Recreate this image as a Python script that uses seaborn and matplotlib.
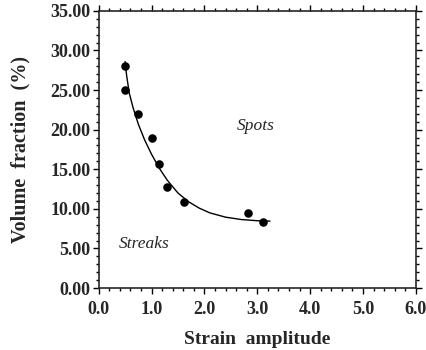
import matplotlib
matplotlib.use('Agg')
import matplotlib.pyplot as plt
import seaborn as sns
import pandas as pd
from matplotlib.ticker import MultipleLocator, FormatStrFormatter

# measured points
strain = [0.50, 0.50, 0.75, 1.01, 1.14, 1.29, 1.61, 2.83, 3.10]
volume = [28.0, 25.0, 22.0, 18.9, 15.7, 12.8, 10.9, 9.5, 8.3]

# fitted curve
fit_x = [0.50, 0.53, 0.58, 0.65, 0.75, 0.87, 1.00, 1.15, 1.30, 1.50, 1.70,
         1.90, 2.10, 2.40, 2.70, 3.00, 3.24]
fit_y = [28.6, 26.8, 24.6, 22.8, 20.7, 18.7, 16.9, 15.1, 13.6, 12.0, 10.9,
         10.1, 9.5, 8.95, 8.65, 8.5, 8.45]

df = pd.DataFrame({'strain': strain, 'volume': volume})
df_fit = pd.DataFrame({'x': fit_x, 'y': fit_y})

sns.set_style('ticks')
plt.rcParams['font.family'] = ['Liberation Serif', 'DejaVu Serif']

fig = plt.figure(figsize=(4.27, 3.5), dpi=100)
ax = fig.add_axes([0.231, 0.177, 0.743, 0.792])

sns.lineplot(data=df_fit, x='x', y='y', color='black', linewidth=1.0,
             sort=False, ax=ax)
sns.scatterplot(data=df, x='strain', y='volume', color='black', s=38,
                edgecolor='black', linewidth=0, ax=ax, zorder=3)

ax.text(2.97, 20.4, 'Spots', fontsize=12.5, style='italic',
        ha='center', va='center')
ax.text(0.86, 5.6, 'Streaks', fontsize=12.5, style='italic',
        ha='center', va='center')

ax.set_xlim(0, 6)
ax.set_ylim(0, 35)
ax.xaxis.set_major_locator(MultipleLocator(1.0))
ax.xaxis.set_minor_locator(MultipleLocator(0.2))
ax.yaxis.set_major_locator(MultipleLocator(5))
ax.yaxis.set_minor_locator(MultipleLocator(1))
ax.xaxis.set_major_formatter(FormatStrFormatter('%.1f'))
ax.yaxis.set_major_formatter(FormatStrFormatter('%.2f'))

for s in ax.spines.values():
    s.set_visible(True)
    s.set_linewidth(1.2)
ax.tick_params(which='both', direction='out', top=True, right=True,
               labeltop=False, labelright=False, color='black', width=1.0)
ax.tick_params(which='major', length=4)
ax.tick_params(which='minor', length=2.5)
ax.tick_params(axis='y', which='major', labelsize=13, pad=2)
ax.tick_params(axis='x', which='major', labelsize=13, pad=5)
for lab in ax.get_xticklabels() + ax.get_yticklabels():
    lab.set_fontweight('bold')

ax.set_xlabel('Strain  amplitude', fontsize=14, fontweight='bold', labelpad=10)
ax.set_ylabel('Volume  fraction  (%)', fontsize=14.5, fontweight='bold', labelpad=14)

fig.savefig('out.png', dpi=100)
